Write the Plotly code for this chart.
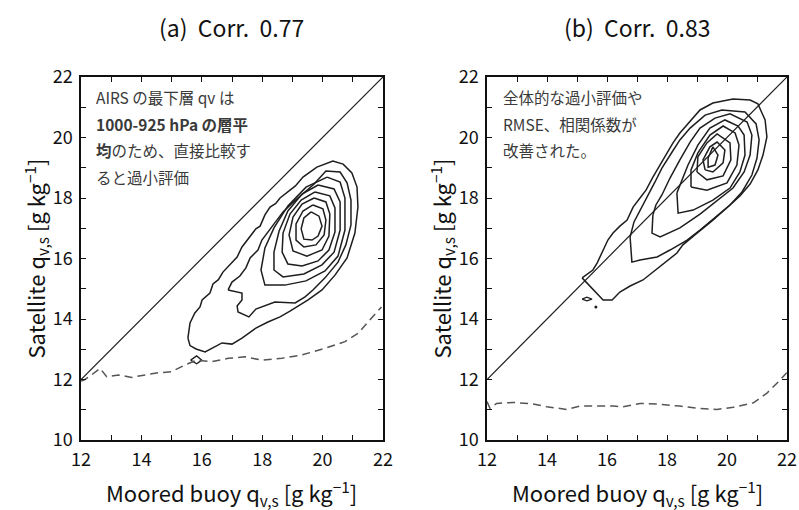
import plotly.graph_objects as go

FONT = "Noto Sans CJK JP"

# ---------------- data ----------------
X_TICKS = [12, 13, 14, 15, 16, 17, 18, 19, 20, 21, 22]
X_TICK_LABELS = ["12", "", "14", "", "16", "", "18", "", "20", "", "22"]
Y_TICKS = [10, 11, 12, 13, 14, 15, 16, 17, 18, 19, 20, 21, 22]
Y_TICK_LABELS = ["10", "", "12", "", "14", "", "16", "", "18", "", "20", "", "22"]

TITLES = ["(a)  Corr.  0.77", "(b)  Corr.  0.83"]
ONE_TO_ONE = [12, 22]

# panel (a) contours of joint frequency (outer -> inner)
a_c1_x = [15.54, 15.61, 15.77, 15.94, 16.01, 16.27, 16.37, 16.55, 16.70, 16.93, 17.17, 17.33, 17.50, 17.66, 17.79,
          17.93, 18.09, 18.26, 18.45, 18.59, 18.92, 19.10, 19.35, 19.81, 20.34, 20.68, 20.97, 21.14, 21.17, 21.07,
          20.81, 20.41, 19.98, 19.52, 18.92, 18.59, 18.19, 17.79, 17.33, 17.00, 16.67, 16.11, 15.81, 15.61, 15.54]
a_c1_y = [13.37, 13.87, 14.20, 14.40, 14.63, 14.86, 15.16, 15.30, 15.55, 15.79, 16.05, 16.38, 16.61, 16.84, 16.98,
          17.07, 17.44, 17.70, 17.82, 18.00, 18.26, 18.40, 18.69, 19.02, 19.22, 19.12, 18.83, 18.36, 17.70, 16.84,
          16.02, 15.45, 14.96, 14.63, 14.26, 14.07, 13.90, 13.70, 13.37, 13.17, 13.21, 12.91, 13.01, 13.12, 13.37]
a_c2_x = [16.87, 17.00, 17.26, 17.46, 17.60, 17.86, 17.99, 18.19, 18.42, 18.69, 18.99, 19.32, 19.72, 20.11, 20.58,
          20.81, 20.94, 20.94, 20.77, 20.51, 20.08, 19.68, 19.42, 19.09, 18.42, 17.79, 17.56, 17.20, 17.17, 17.33,
          17.33, 16.87]
a_c2_y = [14.96, 15.22, 15.42, 15.69, 16.02, 16.28, 16.61, 16.88, 17.21, 17.54, 17.83, 18.13, 18.46, 18.89, 18.86,
          18.50, 17.93, 17.11, 16.45, 15.88, 15.36, 14.96, 14.73, 14.53, 14.56, 14.33, 14.07, 14.23, 14.43, 14.63,
          14.86, 14.96]
a_c3_x = [20.15, 20.58, 20.74, 20.74, 20.51, 20.08, 19.45, 18.75, 18.09, 17.96, 18.09, 18.39, 18.85, 19.45, 20.15]
a_c3_y = [18.69, 18.53, 18.00, 16.94, 16.08, 15.59, 15.26, 15.12, 15.12, 15.62, 16.35, 17.01, 17.74, 18.36, 18.69]
a_c4_x = [19.85, 20.38, 20.58, 20.58, 20.38, 19.98, 19.38, 18.69, 18.39, 18.39, 18.56, 18.85, 19.32, 19.85]
a_c4_y = [18.43, 18.30, 17.87, 16.94, 16.21, 15.79, 15.49, 15.39, 15.62, 16.21, 16.91, 17.57, 18.13, 18.43]
a_c5_x = [19.75, 20.24, 20.41, 20.41, 20.21, 19.85, 19.32, 18.85, 18.66, 18.69, 18.92, 19.29, 19.75]
a_c5_y = [18.20, 18.07, 17.67, 16.88, 16.28, 15.92, 15.75, 15.82, 16.21, 16.84, 17.47, 17.93, 18.20]
a_c6_x = [19.72, 20.11, 20.24, 20.21, 19.98, 19.48, 19.02, 18.89, 19.02, 19.32, 19.72]
a_c6_y = [18.00, 17.87, 17.47, 16.74, 16.28, 16.08, 16.25, 16.78, 17.37, 17.80, 18.00]
a_c7_x = [19.68, 20.01, 20.11, 20.05, 19.78, 19.38, 19.12, 19.12, 19.35, 19.68]
a_c7_y = [17.77, 17.64, 17.27, 16.78, 16.45, 16.38, 16.61, 17.14, 17.57, 17.77]
a_c8_x = [19.62, 19.88, 19.98, 19.85, 19.65, 19.38, 19.29, 19.38, 19.62]
a_c8_y = [17.54, 17.40, 17.07, 16.74, 16.61, 16.64, 16.98, 17.34, 17.54]
a_blob_x = [15.63, 15.83, 16.00, 15.83, 15.63]
a_blob_y = [12.64, 12.78, 12.64, 12.52, 12.64]

# panel (a) dashed curve
a_dash_x = [12.00, 12.10, 12.35, 12.63, 12.85, 13.24, 13.68, 14.45, 15.00, 15.44, 15.83, 16.33, 16.88, 17.43,
            17.98, 18.65, 19.31, 20.08, 20.74, 21.18, 21.51, 21.95]
a_dash_y = [11.95, 11.98, 12.15, 12.37, 12.09, 12.15, 12.07, 12.21, 12.26, 12.48, 12.64, 12.59, 12.70, 12.75,
            12.64, 12.70, 12.81, 13.03, 13.25, 13.53, 13.91, 14.40]

# panel (b) contours (outer -> inner)
b_c1_x = [15.17, 15.53, 15.67, 15.87, 16.03, 16.20, 16.43, 16.67, 16.87, 17.10, 17.30, 17.53, 17.77, 18.00, 18.20,
          18.43, 18.77, 19.10, 19.53, 20.20, 20.77, 21.03, 21.27, 21.33, 21.20, 21.03, 20.77, 20.43, 20.10, 19.53,
          19.00, 18.53, 18.33, 17.77, 17.20, 16.77, 16.43, 16.17, 15.87, 15.17]
b_c1_y = [15.36, 15.62, 15.85, 16.28, 16.61, 16.84, 17.07, 17.27, 17.70, 18.00, 18.26, 18.69, 19.09, 19.49, 19.82,
          20.15, 20.55, 20.91, 21.14, 21.27, 21.24, 21.11, 20.58, 20.02, 19.42, 18.93, 18.46, 18.07, 17.77, 17.27,
          16.84, 16.45, 16.18, 15.75, 15.29, 15.09, 14.89, 14.63, 14.63, 15.36]
b_c2_x = [16.77, 16.83, 17.10, 17.67, 18.10, 18.67, 19.10, 19.60, 20.10, 20.50, 20.83, 21.00, 21.07, 20.97, 20.60,
          19.83, 19.27, 18.77, 18.43, 18.17, 17.83, 17.60, 17.37, 17.10, 16.90, 16.77]
b_c2_y = [16.71, 15.88, 15.95, 16.05, 16.28, 16.61, 16.94, 17.34, 17.77, 18.20, 18.76, 19.32, 19.92, 20.45, 20.84,
          20.91, 20.74, 20.31, 19.92, 19.52, 18.99, 18.53, 18.10, 17.60, 17.21, 16.71]
b_c3_x = [17.53, 17.50, 17.77, 18.43, 19.10, 19.70, 20.20, 20.57, 20.77, 20.83, 20.67, 20.10, 19.60, 19.10, 18.77,
          18.43, 18.10, 17.83, 17.63, 17.53]
b_c3_y = [17.44, 16.84, 16.71, 17.01, 17.47, 17.93, 18.33, 18.86, 19.42, 20.08, 20.51, 20.78, 20.64, 20.31, 19.85,
          19.26, 18.66, 18.10, 17.77, 17.44]
b_c4_x = [18.33, 18.37, 18.87, 19.53, 20.10, 20.43, 20.60, 20.57, 20.37, 19.93, 19.43, 19.03, 18.70, 18.50, 18.33]
b_c4_y = [18.17, 17.50, 17.60, 17.93, 18.33, 18.86, 19.42, 20.08, 20.38, 20.58, 20.31, 19.75, 19.09, 18.60, 18.17]
b_c5_x = [18.80, 19.33, 20.00, 20.33, 20.40, 20.27, 19.87, 19.43, 19.03, 18.80, 18.80]
b_c5_y = [18.36, 18.26, 18.50, 19.09, 19.75, 20.15, 20.38, 20.08, 19.49, 18.93, 18.36]
b_c6_x = [19.00, 19.33, 19.87, 20.13, 20.10, 19.67, 19.33, 19.03, 19.00]
b_c6_y = [18.86, 18.60, 18.73, 19.26, 19.82, 20.12, 19.82, 19.36, 18.86]
b_c7_x = [19.27, 19.53, 19.87, 19.93, 19.67, 19.43, 19.20, 19.27]
b_c7_y = [18.93, 18.86, 19.16, 19.59, 19.85, 19.69, 19.26, 18.93]
b_c8_x = [19.53, 19.70, 19.60, 19.37, 19.37, 19.53]
b_c8_y = [19.69, 19.42, 19.09, 19.02, 19.32, 19.69]
b_blob_x = [15.17, 15.33, 15.50, 15.33, 15.17]
b_blob_y = [14.66, 14.72, 14.66, 14.60, 14.66]
b_dot_x = [15.63]
b_dot_y = [14.40]

# panel (b) dashed curve
b_dash_x = [12.00, 12.10, 12.32, 12.88, 13.54, 13.99, 14.66, 15.10, 16.21, 16.54, 17.10, 17.66, 18.43, 18.99,
            19.66, 20.21, 20.88, 21.32, 21.77, 21.99]
b_dash_y = [11.27, 11.05, 11.21, 11.24, 11.19, 11.10, 11.01, 11.12, 11.12, 11.10, 11.21, 11.19, 11.12, 11.05,
            11.01, 11.08, 11.23, 11.54, 11.98, 12.22]

NOTE_A = ["AIRS の最下層 qv は",
          "<b>1000-925 hPa の層平</b>",
          "<b>均</b>のため、直接比較す",
          "ると過小評価"]
NOTE_B = ["全体的な過小評価や",
          "RMSE、相関係数が",
          "改善された。"]

X_TITLE = "Moored buoy q<sub>v,s</sub> [g kg<sup>−1</sup>]"
Y_TITLE = "Satellite q<sub>v,s</sub> [g kg<sup>−1</sup>]"

# ---------------- figure ----------------
fig = go.Figure()
CONTOUR_LINE = dict(color="#1e1e1e", width=1.5)
DASH_LINE = dict(color="#555555", width=1.5, dash="8px,5px")


def add_line(x, y, ax, line, mode="lines"):
    fig.add_trace(go.Scatter(x=x, y=y, mode=mode, line=line, xaxis="x" + ax, yaxis="y" + ax,
                             showlegend=False, hoverinfo="skip"))


for ax, contours, blob, dash in [
    ("", [(a_c1_x, a_c1_y), (a_c2_x, a_c2_y), (a_c3_x, a_c3_y), (a_c4_x, a_c4_y), (a_c5_x, a_c5_y),
          (a_c6_x, a_c6_y), (a_c7_x, a_c7_y), (a_c8_x, a_c8_y)], (a_blob_x, a_blob_y), (a_dash_x, a_dash_y)),
    ("2", [(b_c1_x, b_c1_y), (b_c2_x, b_c2_y), (b_c3_x, b_c3_y), (b_c4_x, b_c4_y), (b_c5_x, b_c5_y),
           (b_c6_x, b_c6_y), (b_c7_x, b_c7_y), (b_c8_x, b_c8_y)], (b_blob_x, b_blob_y), (b_dash_x, b_dash_y)),
]:
    add_line(ONE_TO_ONE, ONE_TO_ONE, ax, dict(color="#1e1e1e", width=1.2))
    for cx, cy in contours:
        add_line(cx, cy, ax, CONTOUR_LINE)
    add_line(blob[0], blob[1], ax, dict(color="#1e1e1e", width=1.3))
    add_line(dash[0], dash[1], ax, DASH_LINE)

fig.add_trace(go.Scatter(x=b_dot_x, y=b_dot_y, mode="markers", marker=dict(size=3, color="#1e1e1e"),
                         xaxis="x2", yaxis="y2", showlegend=False, hoverinfo="skip"))

W, H = 799, 510
XA = [81 / W, 383 / W]
XB = [487 / W, 787 / W]
YD = [1 - 440 / H, 1 - 77 / H]

common = dict(showline=True, linecolor="#111111", linewidth=1.5, mirror="ticks", ticks="inside",
              ticklen=5, tickwidth=1.2, tickcolor="#111111", showgrid=False, zeroline=False,
              automargin=False, ticklabelstandoff=3,
              tickfont=dict(family=FONT, size=18, color="#111111"))

fig.update_layout(
    width=W, height=H, margin=dict(l=0, r=0, t=0, b=0, autoexpand=False),
    paper_bgcolor="white", plot_bgcolor="white",
    xaxis=dict(domain=XA, range=[12, 22], anchor="y", tickvals=X_TICKS, ticktext=X_TICK_LABELS, **common),
    yaxis=dict(domain=YD, range=[10, 22], anchor="x", tickvals=Y_TICKS, ticktext=Y_TICK_LABELS, **common),
    xaxis2=dict(domain=XB, range=[12, 22], anchor="y2", tickvals=X_TICKS, ticktext=X_TICK_LABELS, **common),
    yaxis2=dict(domain=YD, range=[10, 22], anchor="x2", tickvals=Y_TICKS, ticktext=Y_TICK_LABELS, **common),
)

ann = []
for title, dom in zip(TITLES, [XA, XB]):
    cx = (dom[0] + dom[1]) / 2
    ann.append(dict(text=title, x=cx, y=1 - 27 / H, xref="paper", yref="paper", showarrow=False,
                    xanchor="center", yanchor="middle", font=dict(family=FONT, size=23, color="#111111")))
    ann.append(dict(text=X_TITLE, x=cx, y=1 - 493 / H, xref="paper", yref="paper", showarrow=False,
                    xanchor="center", yanchor="middle", font=dict(family=FONT, size=22, color="#111111")))
    ann.append(dict(text=Y_TITLE, x=dom[0] - 46 / W, y=(YD[0] + YD[1]) / 2, xref="paper", yref="paper",
                    showarrow=False, textangle=-90, xanchor="center", yanchor="middle",
                    font=dict(family=FONT, size=22, color="#111111")))

for lines, dom, x0 in [(NOTE_A, XA, 94), (NOTE_B, XB, 501)]:
    for i, t in enumerate(lines):
        ann.append(dict(text=t, x=x0 / W, y=1 - (97 + 26.5 * i) / H, xref="paper", yref="paper",
                        showarrow=False, xanchor="left", yanchor="middle",
                        font=dict(family=FONT, size=15.5, color="#3a3a3a")))

fig.update_layout(annotations=ann)
fig.write_html("out.html", config={"displayModeBar": False},
               post_script="document.body.style.margin='0px';document.body.style.overflow='hidden';")
